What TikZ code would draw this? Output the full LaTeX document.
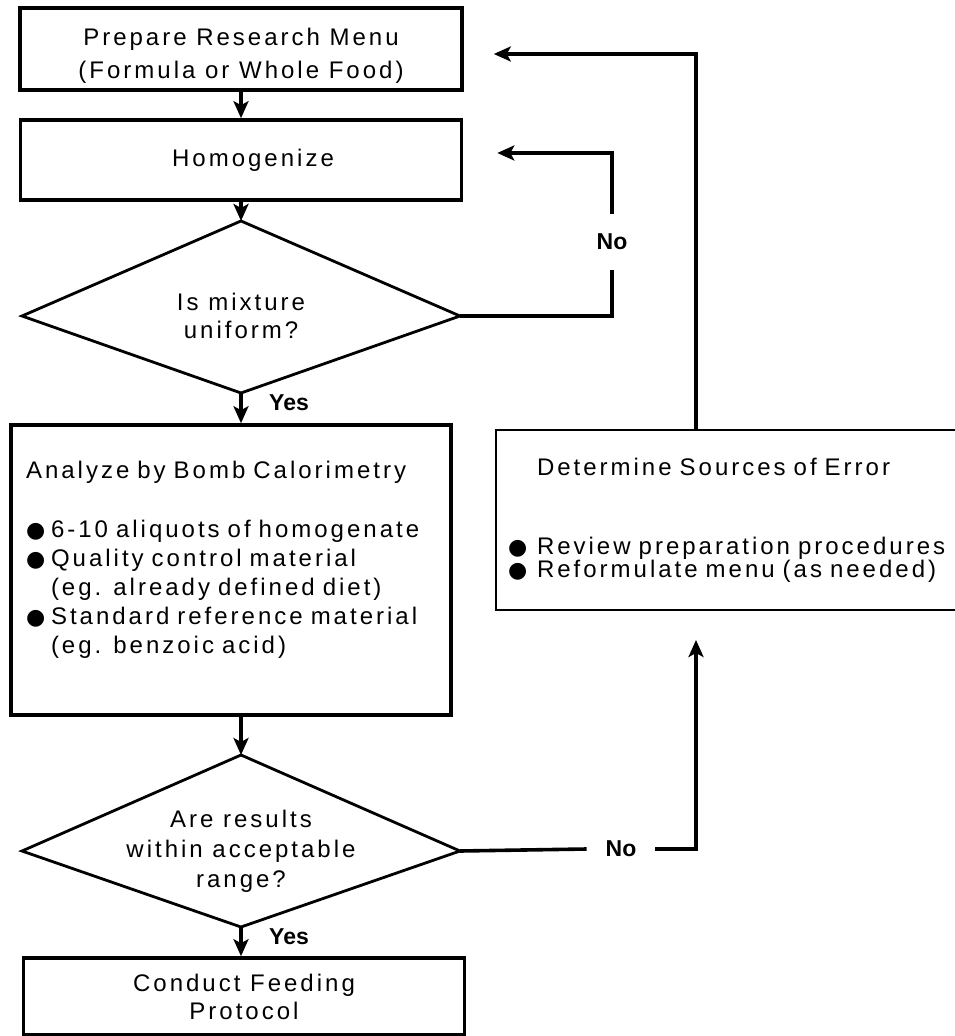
\documentclass[tikz,border=0pt]{standalone}
\usepackage{fontspec}
\setmainfont{Liberation Sans}[LetterSpace=12.5]
\newfontfamily\tagfont{Liberation Sans}
\newfontfamily\bulletfont{DejaVu Sans}
\usetikzlibrary{arrows.meta,calc}
\newcommand{\blt}[1]{\makebox[#1][l]{\bulletfont\fontsize{11}{11}\selectfont ●}}
\newcommand{\drawkite}[5]{
  \coordinate (#1-n) at ($(#2)+(0,-#4)$);
  \coordinate (#1-s) at ($(#2)+(0,#5)$);
  \coordinate (#1-e) at ($(#2)+(#3,0)$);
  \coordinate (#1-w) at ($(#2)+(-#3,0)$);
  \draw[kite] (#1-n) -- (#1-e) -- (#1-s) -- (#1-w) -- cycle;
}

\begin{document}
\begin{tikzpicture}[x=0.5pt,y=-0.5pt,
  box/.style={draw, line width=1.8pt, align=center, inner sep=0pt},
  kite/.style={line width=1.4pt, line join=miter},
  link/.style={line width=1.8pt},
  arr/.style={line width=1.8pt, -{Stealth[length=8.5pt,width=7.5pt,inset=2pt]}},
  lbl/.style={font=\tagfont\bfseries\fontsize{11.5}{13}\selectfont, inner xsep=9.3pt, inner ysep=10pt}]
\useasboundingbox (0,0) rectangle (954,1036);

\node[box, minimum width=221pt, minimum height=41pt, font=\fontsize{12}{16.5}\selectfont]
  (prep) at (241,49) {\rule{0pt}{15pt}Prepare Research Menu\\(Formula or Whole Food)};
\node[box, minimum width=220.5pt, minimum height=40pt, font=\fontsize{12}{14.5}\selectfont]
  (homog) at (241,160) {\hspace*{12pt}Homogenize};
\node[align=center, inner sep=0pt, font=\fontsize{12}{14}\selectfont]
  (d1) at (241,316) {Is mixture\\uniform?};
\drawkite{d1}{d1}{219}{95}{77}
\node[box, align=left, text width=205pt, inner xsep=7.5pt, minimum height=145pt, font=\fontsize{12}{14.5}\selectfont]
  (ana) at (231,570) {Analyze by Bomb Calorimetry\\[15pt]
  \blt{12.5pt}6-10 aliquots of homogenate\\
  \blt{12.5pt}Quality control material\\
  \hspace*{12.5pt}(eg. already defined diet)\\
  \blt{12.5pt}Standard reference material\\
  \hspace*{12.5pt}(eg. benzoic acid)\rule[-12.5pt]{0pt}{0pt}};
\node[align=center, inner sep=0pt, font=\fontsize{12}{15}\selectfont]
  (d2) at (241,851) {Are results\\within acceptable\\range?};
\drawkite{d2}{d2}{219}{96}{76}
\node[box, minimum width=220.5pt, minimum height=38.5pt, font=\fontsize{12}{14}\selectfont]
  (conduct) at (244,996.5) {Conduct Feeding\\Protocol};
% error box runs off the right edge
\node[draw, line width=1pt, align=left, text width=240pt, inner xsep=6pt, inner ysep=0pt,
  minimum height=90pt, font=\fontsize{12}{11.5}\selectfont]
  (err) at (748,520) {\hspace*{14.5pt}Determine Sources of Error\\[28pt]
  \blt{14.5pt}Review preparation procedures\\
  \blt{14.5pt}Reformulate menu (as needed)};

\node[lbl] (no1) at (612,242) {No};
\node[lbl] (no2) at (621,849) {No};
\node[lbl] (yes1) at (289,403) {Yes};
\node[lbl] (yes2) at (289,937) {Yes};

\coordinate (hin) at ($(homog.east)+(34,-7)$);
\coordinate (pin) at ($(prep.east)+(30,5)$);
\coordinate (errin) at ($(err.south)+(-52,29)$);

\draw[arr] (prep.south -| d1-n) -- (homog.north -| d1-n);
\draw[arr] (homog.south -| d1-n) -- (d1-n);
\draw[arr] (d1-s) -- (ana.north -| d1-s);
\draw[arr] (ana.south -| d2-n) -- (d2-n);
\draw[arr] (d2-s) -- (conduct.north -| d2-s);
\draw[link] (d1-e) -| (no1.south);
\draw[arr] (no1.north) |- (hin);
\draw[link] (d2-e) -- (no2.west);
\draw[arr] (no2.east) -| (errin);
\draw[arr] (err.north -| errin) |- (pin);
\end{tikzpicture}
\end{document}
